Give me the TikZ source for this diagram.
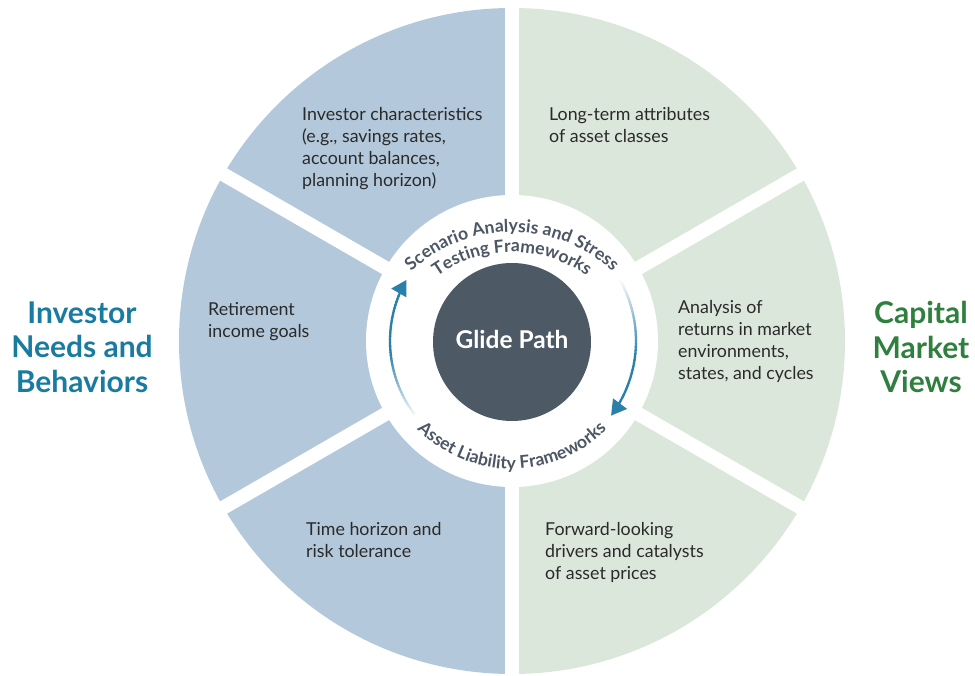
\documentclass[tikz,border=0pt]{standalone}
\usepackage{fontspec}
\setmainfont{Lato}
\usetikzlibrary{decorations.text,arrows.meta}
\definecolor{segblue}{HTML}{B3C8DB}
\definecolor{seggreen}{HTML}{DBE7DB}
\definecolor{hubdark}{HTML}{4D5965}
\definecolor{titleteal}{HTML}{1A7BA1}
\definecolor{titlegreen}{HTML}{2F7F3E}
\definecolor{bodygray}{HTML}{2A2A2A}
\definecolor{curvegray}{HTML}{4C5664}
\definecolor{arrowblue}{HTML}{2B80AA}
\newcommand\segtextfont{\fontsize{17.8}{22}\selectfont}
\newcommand\curvetextfont{\fontsize{17.6}{20}\selectfont\bfseries}
\tikzset{
  segtext/.style={anchor=north west, align=left, inner sep=0pt, text=bodygray, font=\segtextfont},
  sidetitle/.style={anchor=center, align=center, inner sep=0pt, font=\fontsize{30}{34.5}\selectfont\bfseries},
  gapline/.style={white, line width=14pt},
}
\begin{document}
\begin{tikzpicture}[x=1pt,y=1pt]
\useasboundingbox (0,0) rectangle (975,675);
\coordinate (C) at (512,334);
% ring halves
\fill[segblue] (C) -- ++(90:333pt) arc[start angle=90, end angle=270, radius=333pt] -- cycle;
\fill[seggreen] (C) -- ++(-90:333pt) arc[start angle=-90, end angle=90, radius=333pt] -- cycle;
% gaps
\foreach \ang in {90,150,210,270,330,30} {
  \draw[gapline] (C) -- ++(\ang:345pt);
}
% inner white disk and hub
\fill[white] (C) circle[radius=146pt];
\fill[hubdark] (512,333) circle[radius=79pt];
\node[inner sep=0pt, text=white, font=\fontsize{24.5}{28}\selectfont\bfseries] (hub) at (512,335.5) {Glide Path};

% gradient arrows
\foreach \i in {0,...,39} {
  \pgfmathsetmacro\a{217 - \i*1.5}
  \pgfmathsetmacro\b{217 - (\i+1)*1.5 - 0.4}
  \pgfmathtruncatemacro\p{min(100, 8 + \i*100/22)}
  \draw[arrowblue!\p!white, line width=2.3pt] (C) ++(\a:122pt) arc[start angle=\a, end angle=\b, radius=122pt];
}
\draw[arrowblue, line width=2.3pt, -{Triangle[length=15pt,width=17pt]}] (C) ++(157:122pt) arc[start angle=157, end angle=150, radius=122pt];
\foreach \i in {0,...,39} {
  \pgfmathsetmacro\a{31 - \i*1.525}
  \pgfmathsetmacro\b{31 - (\i+1)*1.525 - 0.4}
  \pgfmathtruncatemacro\p{min(100, \i*100/24)}
  \draw[arrowblue!\p!white, line width=2.3pt] (C) ++(\a:124pt) arc[start angle=\a, end angle=\b, radius=124pt];
}
\draw[arrowblue, line width=2.3pt, -{Triangle[length=15pt,width=17pt]}] (C) ++(-30:124pt) arc[start angle=-30, end angle=-37, radius=124pt];

% curved texts
\coordinate (T) at (512,295);
\path[decorate, decoration={text along path, text align=center, text color=curvegray,
  text={|\curvetextfont|Scenario Analysis and Stress}}]
  (T) ++(170:148pt) arc[start angle=170, end angle=10, radius=148pt];
\path[decorate, decoration={text along path, text align=center, text color=curvegray,
  text={|\curvetextfont|Testing Frameworks}}]
  (T) ++(170:128pt) arc[start angle=170, end angle=10, radius=128pt];
\coordinate (B) at (512,339);
\path[decorate, decoration={text along path, text align=center, text color=curvegray,
  text={|\curvetextfont|Asset Liability Frameworks}}]
  (B) ++(190:133pt) arc[start angle=190, end angle=350, radius=133pt];

% segment texts
\node[segtext] (s1) at (302,568) {Investor characteristics\\(e.g., savings rates,\\account balances,\\planning horizon)};
\node[segtext] (s2) at (549,568) {Long-term attributes\\of asset classes};
\node[segtext] (s3) at (208,373) {Retirement\\income goals};
\node[segtext] (s4) at (678,375) {Analysis of\\returns in market\\environments,\\states, and cycles};
\node[segtext] (s5) at (306,153) {Time horizon and\\risk tolerance};
\node[segtext] (s6) at (545,153) {Forward-looking\\drivers and catalysts\\of asset prices};

% side titles
\node[sidetitle, text=titleteal] (lt) at (82,328) {Investor\\Needs and\\Behaviors};
\node[sidetitle, text=titlegreen] (rt) at (921,328) {Capital\\Market\\Views};
\end{tikzpicture}
\end{document}
